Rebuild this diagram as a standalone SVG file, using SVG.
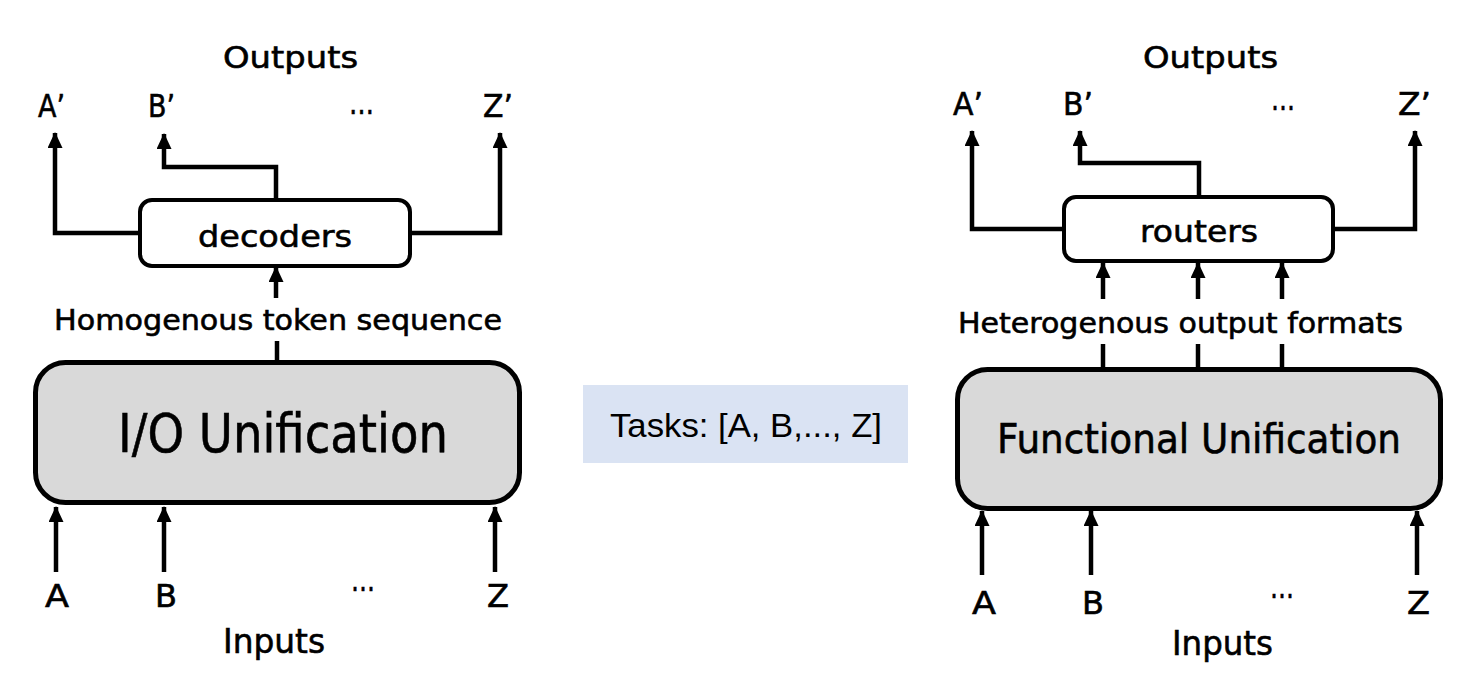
<svg xmlns="http://www.w3.org/2000/svg" width="1484" height="688" viewBox="0 0 1484 688">
<style>
text{font-family:"DejaVu Sans",sans-serif;fill:#000;stroke:#000;stroke-width:0.6}
.ln{fill:none;stroke:#000;stroke-width:4.5;stroke-linejoin:miter;stroke-linecap:butt}
.ar{marker-end:url(#ah)}
.small{fill:#fff;stroke:#000;stroke-width:4}
.big{fill:#d9d9d9;stroke:#000;stroke-width:5}
.tk{font-family:"Liberation Sans",Arial,sans-serif;stroke:none}
</style>
<defs>
<marker id="ah" viewBox="0 0 16 15" refX="15" refY="7.5" markerWidth="16" markerHeight="15" markerUnits="userSpaceOnUse" orient="auto">
<path d="M0,0 L16,7.5 L0,15 z" fill="#000"/>
</marker>
</defs>
<rect width="1484" height="688" fill="#fff"/>

<g id="connectors">
<path class="ln ar" d="M140,233 H55 V133"/>
<path class="ln ar" d="M276,200 V167 H164 V134"/>
<path class="ln ar" d="M410,233 H500 V133"/>
<path class="ln ar" d="M276,298 V267"/>
<path class="ln" d="M277,341 V362"/>
<path class="ln ar" d="M56,572 V507"/>
<path class="ln ar" d="M164,572 V507"/>
<path class="ln ar" d="M495,572 V507"/>
<path class="ln ar" d="M1064,229 H972 V131"/>
<path class="ln ar" d="M1199,197 V163 H1080 V131"/>
<path class="ln ar" d="M1333,229 H1415 V131"/>
<path class="ln ar" d="M1103,299 V263"/>
<path class="ln ar" d="M1198,299 V263"/>
<path class="ln ar" d="M1282,299 V263"/>
<path class="ln" d="M1103,344 V369"/>
<path class="ln" d="M1198,344 V369"/>
<path class="ln" d="M1282,344 V369"/>
<path class="ln ar" d="M982,575 V511"/>
<path class="ln ar" d="M1091,575 V511"/>
<path class="ln ar" d="M1417,575 V511"/>
</g>

<g id="left-labels">
<text x="223" y="68" font-size="31" textLength="135" lengthAdjust="spacingAndGlyphs">Outputs</text>
<text x="38" y="117" font-size="32" textLength="27" lengthAdjust="spacingAndGlyphs">A’</text>
<text x="148" y="117" font-size="32" textLength="27" lengthAdjust="spacingAndGlyphs">B’</text>
<text x="349" y="114" font-size="32" textLength="25" lengthAdjust="spacingAndGlyphs">…</text>
<text x="483" y="117" font-size="32" textLength="30" lengthAdjust="spacingAndGlyphs">Z’</text>
<text x="54" y="330" font-size="28" textLength="448" lengthAdjust="spacingAndGlyphs">Homogenous token sequence</text>
<text x="45" y="607" font-size="32" textLength="24" lengthAdjust="spacingAndGlyphs">A</text>
<text x="155" y="607" font-size="32" textLength="22" lengthAdjust="spacingAndGlyphs">B</text>
<text x="351" y="591" font-size="32" textLength="24" lengthAdjust="spacingAndGlyphs">…</text>
<text x="487" y="607" font-size="32" textLength="22" lengthAdjust="spacingAndGlyphs">Z</text>
<text x="223" y="653" font-size="34" textLength="102" lengthAdjust="spacingAndGlyphs">Inputs</text>
</g>

<g id="decoders">
<rect class="small" x="140" y="200" width="270" height="66" rx="12"/>
<text x="198" y="247" font-size="31" textLength="154" lengthAdjust="spacingAndGlyphs">decoders</text>
</g>

<g id="io-unification">
<rect class="big" x="35.5" y="362.5" width="484" height="140" rx="30"/>
<text x="118" y="452" font-size="54" textLength="330" lengthAdjust="spacingAndGlyphs">I/O Unification</text>
</g>

<g id="tasks">
<rect x="583" y="385" width="325" height="78" fill="#dae3f3"/>
<text class="tk" x="610" y="437" font-size="33" textLength="272" lengthAdjust="spacingAndGlyphs">Tasks: [A, B,..., Z]</text>
</g>

<g id="right-labels">
<text x="1143" y="68" font-size="31" textLength="135" lengthAdjust="spacingAndGlyphs">Outputs</text>
<text x="953" y="115" font-size="32" textLength="30" lengthAdjust="spacingAndGlyphs">A’</text>
<text x="1063" y="115" font-size="32" textLength="30" lengthAdjust="spacingAndGlyphs">B’</text>
<text x="1271" y="110" font-size="32" textLength="24" lengthAdjust="spacingAndGlyphs">…</text>
<text x="1398" y="115" font-size="32" textLength="33" lengthAdjust="spacingAndGlyphs">Z’</text>
<text x="958" y="333" font-size="28" textLength="445" lengthAdjust="spacingAndGlyphs">Heterogenous output formats</text>
<text x="972" y="614" font-size="32" textLength="24" lengthAdjust="spacingAndGlyphs">A</text>
<text x="1082" y="614" font-size="32" textLength="22" lengthAdjust="spacingAndGlyphs">B</text>
<text x="1270" y="598" font-size="32" textLength="24" lengthAdjust="spacingAndGlyphs">…</text>
<text x="1407" y="614" font-size="32" textLength="23" lengthAdjust="spacingAndGlyphs">Z</text>
<text x="1172" y="655" font-size="34" textLength="101" lengthAdjust="spacingAndGlyphs">Inputs</text>
</g>

<g id="routers">
<rect class="small" x="1064" y="197" width="269" height="64" rx="12"/>
<text x="1140" y="242" font-size="31" textLength="118" lengthAdjust="spacingAndGlyphs">routers</text>
</g>

<g id="functional-unification">
<rect class="big" x="957.5" y="369.5" width="483" height="139" rx="30"/>
<text x="997" y="453" font-size="41" textLength="404" lengthAdjust="spacingAndGlyphs">Functional Unification</text>
</g>
</svg>
